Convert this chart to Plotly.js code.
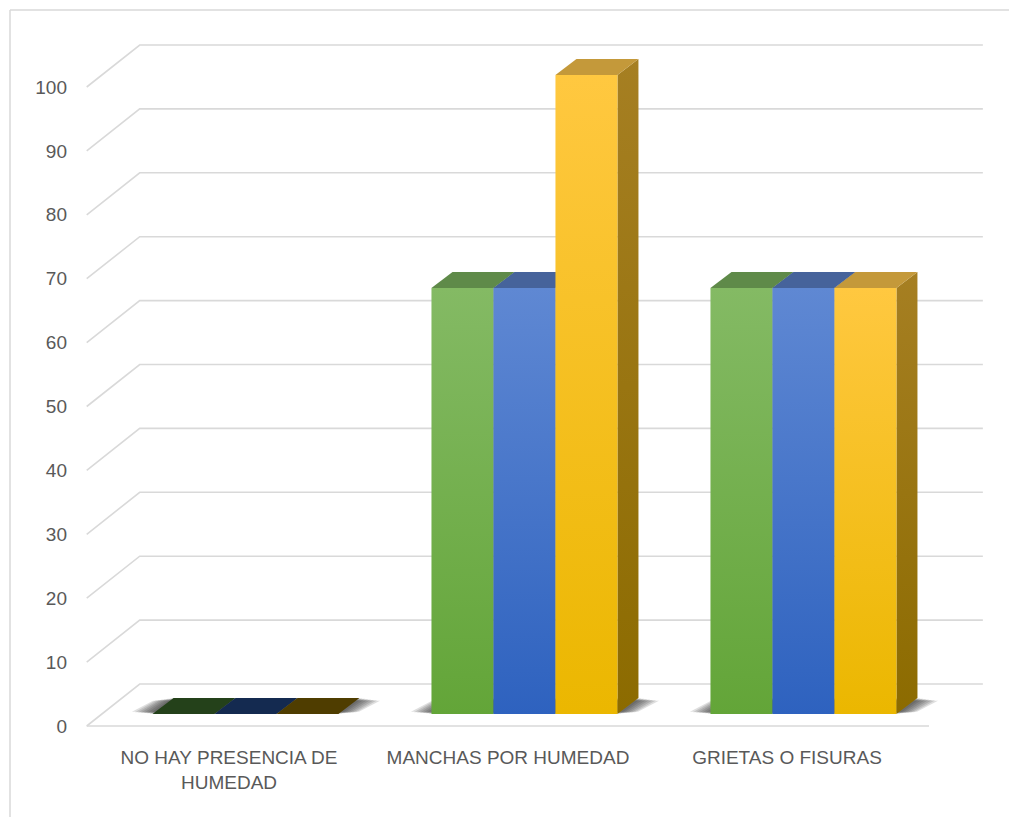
<!DOCTYPE html>
<html>
<head>
<meta charset="utf-8">
<script src="https://cdn.plot.ly/plotly-3.0.1.min.js"></script>
<style>
  html, body { margin: 0; padding: 0; background: #ffffff; }
  #chart { width: 1009px; height: 817px; }
</style>
</head>
<body>
<div id="chart"></div>
<script>
// ---- data ----
const categories = ['NO HAY PRESENCIA DE<br>HUMEDAD', 'MANCHAS POR HUMEDAD', 'GRIETAS O FISURAS'];
const greenValues = [0, 66.67, 66.67];
const blueValues = [0, 66.67, 66.67];
const yellowValues = [0, 100, 66.67];
const yTicks = [0, 10, 20, 30, 40, 50, 60, 70, 80, 90, 100];

// ---- styling ----
const series = [
  { values: greenValues,  front: ['#63a538', '#84ba64'], top: '#5f8a49', side: ['#4a7431', '#5a8540'], flat: '#24411a' },
  { values: blueValues,   front: ['#2e62bf', '#5f88d3'], top: '#46639b', side: ['#284f93', '#3d5f9e'], flat: '#142a50' },
  { values: yellowValues, front: ['#ebb700', '#ffc840'], top: '#c4993a', side: ['#8c6b00', '#a67f22'], flat: '#4f3d00' }
];
const GRID = '#d9d9d9';
const TEXT = '#595959';
const FONT = 'Liberation Sans, Arial, sans-serif';

// walls of the 3-D box, in axis units (x: category units, y: value units)
const WALL = { left: -0.51, right: 2.702, floorRight: 2.509, dx: 0.19, dy: 6.57 };
// column geometry: front face width, cluster shift, floor lift, extrusion depth
const BAR = { width: 0.2222, shiftX: 0.059, base: 1.88, dx: 0.0753, dy: 2.5 };

const W = 1009, H = 817;
const M = { l: 80, r: 9, t: 20, b: 81 };

const traces = [];

function poly(xs, ys, fill, gradient) {
  const t = {
    type: 'scatter', mode: 'lines',
    x: xs.concat([xs[0]]), y: ys.concat([ys[0]]),
    fill: 'toself', line: { width: 0, color: 'rgba(0,0,0,0)' },
    hoverinfo: 'skip', showlegend: false
  };
  if (gradient) {
    t.fillgradient = { type: 'vertical', colorscale: [[0, gradient[0]], [1, gradient[1]]] };
  } else {
    t.fillcolor = fill;
  }
  return t;
}

// gridlines: left wall diagonals plus back wall
yTicks.forEach(v => {
  traces.push({
    type: 'scatter', mode: 'lines',
    x: [WALL.left, WALL.left + WALL.dx, WALL.right],
    y: [v, v + WALL.dy, v + WALL.dy],
    line: { color: GRID, width: 1.6 }, hoverinfo: 'skip', showlegend: false
  });
});
// front edge of the floor
traces.push({
  type: 'scatter', mode: 'lines',
  x: [WALL.left, WALL.floorRight], y: [0, 0],
  line: { color: GRID, width: 1.6 }, hoverinfo: 'skip', showlegend: false
});

// soft floor shadows under each cluster
categories.forEach((c, i) => {
  const left = i + BAR.shiftX - 1.5 * BAR.width;
  const right = left + 3 * BAR.width;
  for (let k = 1; k <= 7; k++) {
    const e = 0.0105 * k;
    const inset = 0.12 * k;
    traces.push(poly(
      [left - e, right + e, right + BAR.dx + e, left + BAR.dx - e],
      [BAR.base + inset * 0.4, BAR.base + inset * 0.4, BAR.base + BAR.dy - inset * 0.5, BAR.base + BAR.dy - inset * 0.5],
      'rgba(40,40,40,0.15)'
    ));
  }
});

// columns: side, top and front face of each bar
categories.forEach((c, i) => {
  series.forEach((s, k) => {
    const v = s.values[i];
    const x0 = i + BAR.shiftX + (k - 1.5) * BAR.width;
    const x1 = x0 + BAR.width;
    const yb = BAR.base, yt = BAR.base + v;
    if (v > 0) {
      traces.push(poly(
        [x1, x1 + BAR.dx, x1 + BAR.dx, x1],
        [yb, yb + BAR.dy, yt + BAR.dy, yt],
        null, s.side
      ));
    }
    traces.push(poly(
      [x0, x1, x1 + BAR.dx, x0 + BAR.dx],
      [yt, yt, yt + BAR.dy, yt + BAR.dy],
      v > 0 ? s.top : s.flat
    ));
    if (v > 0) {
      traces.push(poly(
        [x0, x1, x1, x0],
        [yb, yb, yt, yt],
        null, s.front
      ));
    }
  });
});

// outer frame of the chart area (top and left edges)
const pw = W - M.l - M.r, ph = H - M.t - M.b;
const px = p => (p - M.l) / pw;
const py = p => (H - M.b - p) / ph;

const layout = {
  width: W, height: H,
  margin: M,
  paper_bgcolor: '#ffffff', plot_bgcolor: 'rgba(0,0,0,0)',
  showlegend: false,
  font: { family: FONT, color: TEXT, size: 19 },
  xaxis: {
    range: [(M.l - 229) / 279, (W - M.r - 229) / 279],
    tickvals: [0, 1, 2], ticktext: categories,
    showgrid: false, zeroline: false, showline: false, ticks: '',
    ticklabelstandoff: 8,
    tickfont: { family: FONT, color: TEXT, size: 19 }, fixedrange: true
  },
  yaxis: {
    range: [(726 - (H - M.b)) / 6.39, (726 - M.t) / 6.39],
    tickvals: yTicks,
    showgrid: false, zeroline: false, showline: false, ticks: '',
    ticklabelstandoff: 12,
    tickfont: { family: FONT, color: TEXT, size: 19 }, fixedrange: true
  },
  shapes: [
    { type: 'line', xref: 'paper', yref: 'paper', x0: px(10), x1: px(W), y0: py(10), y1: py(10), line: { color: GRID, width: 1.5 } },
    { type: 'line', xref: 'paper', yref: 'paper', x0: px(10), x1: px(10), y0: py(10), y1: py(H), line: { color: GRID, width: 1.5 } }
  ]
};

Plotly.newPlot('chart', traces, layout, { displayModeBar: false, staticPlot: true });
</script>
</body>
</html>
